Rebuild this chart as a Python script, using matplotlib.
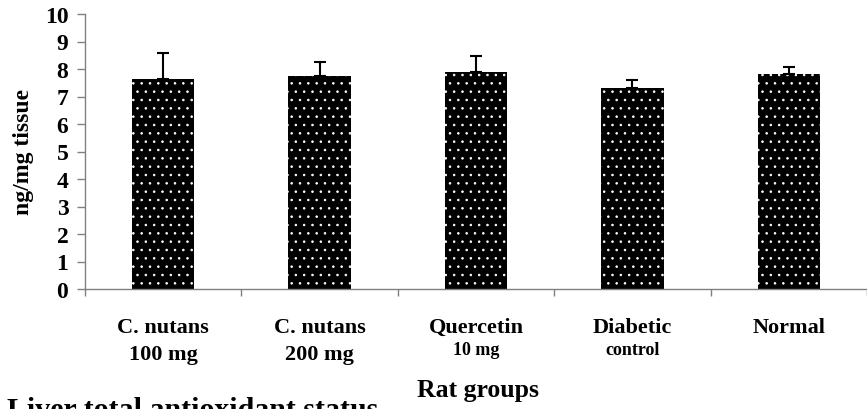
import matplotlib
matplotlib.use('Agg')
from matplotlib import pyplot as plt
import numpy as np

# data
groups = ['C. nutans', 'C. nutans', 'Quercetin', 'Diabetic', 'Normal']
sub_labels = ['100 mg', '200 mg', '10 mg', 'control', '']
sub_small = [False, False, True, True, False]
means = [7.64, 7.73, 7.88, 7.31, 7.82]
err_up = [0.93, 0.54, 0.60, 0.28, 0.26]

plt.rcParams['font.family'] = ['Liberation Serif', 'DejaVu Serif']
plt.rcParams['font.weight'] = 'bold'
plt.rcParams['hatch.linewidth'] = 0.6

fig = plt.figure(figsize=(8.67, 4.10), dpi=100)
ax = fig.add_axes([85 / 867, 1 - 290 / 410, 782 / 867, 275 / 410])

x = np.arange(len(groups))
ax.bar(x, means, width=0.4, color='black', edgecolor='white', linewidth=0,
       hatch='..', zorder=2)
ax.errorbar(x, means, yerr=[np.zeros(len(err_up)), err_up], fmt='none',
            ecolor='black', elinewidth=1.5, capsize=4, capthick=1.5, zorder=3)

ax.set_xlim(-0.5, len(groups) - 0.5)
ax.set_ylim(0, 10)
ax.set_yticks(range(0, 11))
ax.set_xticks(np.arange(-0.5, len(groups), 1.0))
ax.set_xticklabels([])

for s in ['top', 'right']:
    ax.spines[s].set_visible(False)
for s in ['left', 'bottom']:
    ax.spines[s].set_color('#808080')
    ax.spines[s].set_linewidth(1.0)
ax.tick_params(axis='y', length=6, width=1, color='#808080', pad=6, labelsize=17)
ax.tick_params(axis='x', length=5, width=1, color='#808080')
for lab in ax.get_yticklabels():
    lab.set_fontweight('bold')

ax.set_ylabel('ng/mg tissue', fontsize=17, fontweight='bold', labelpad=8)

# two line category labels
trans = ax.get_xaxis_transform()
for i, (g, sub, small) in enumerate(zip(groups, sub_labels, sub_small)):
    ax.text(i, -0.155, g, transform=trans, ha='center', va='baseline',
            fontsize=16, fontweight='bold')
    if sub:
        ax.text(i, -0.235 if small else -0.255, sub, transform=trans, ha='center',
                va='baseline', fontsize=13 if small else 16, fontweight='bold')

fig.text(478 / 867, 1 - 397 / 410, 'Rat groups', ha='center', va='baseline',
         fontsize=18.5, fontweight='bold')
fig.text(7 / 867, 1 - 397 / 410, 'Liver total antioxidant status', ha='left',
         va='top', fontsize=21.5, fontweight='bold')

fig.savefig('out.png', dpi=100)
